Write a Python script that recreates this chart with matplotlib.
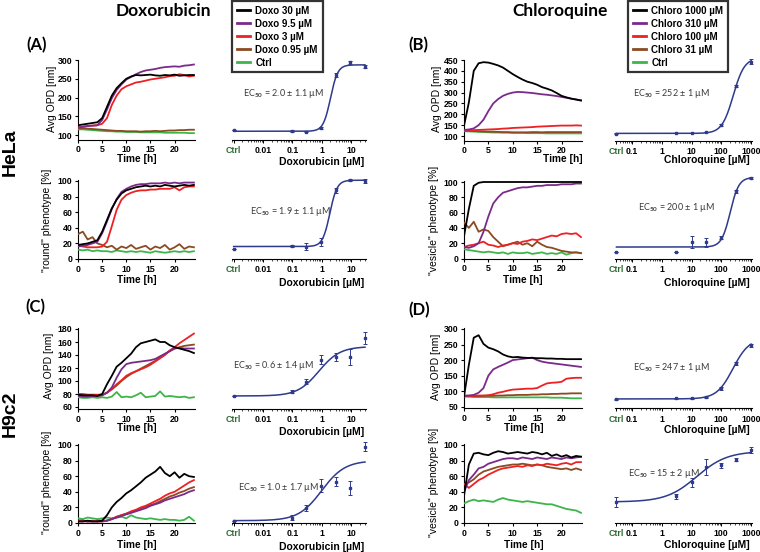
import numpy as np
import matplotlib
matplotlib.use("Agg")
import matplotlib.pyplot as plt
from matplotlib.ticker import LogLocator, NullFormatter

# ---------------- data ----------------
hours = list(range(25))

# HeLa, Doxorubicin, Avg OPD [nm]
A_opd_30 = [126, 128, 130, 132, 134, 145, 175, 205, 225, 238, 250, 256, 260, 259, 260, 261, 259, 258, 260, 259, 261, 258, 259, 260, 260]
A_opd_9 = [120, 122, 124, 125, 126, 140, 168, 198, 220, 235, 248, 255, 262, 268, 272, 274, 276, 279, 281, 282, 283, 282, 285, 286, 288]
A_opd_3 = [120, 122, 124, 125, 126, 130, 145, 180, 205, 222, 230, 235, 240, 242, 245, 248, 250, 252, 254, 257, 258, 262, 260, 256, 258]
A_opd_095 = [118, 118, 117, 116, 115, 114, 113, 112, 111, 111, 110, 110, 110, 109, 110, 110, 111, 110, 111, 112, 112, 113, 113, 114, 114]
A_opd_ctrl = [115, 115, 114, 113, 112, 111, 110, 110, 109, 109, 108, 108, 108, 107, 107, 107, 107, 107, 106, 106, 106, 106, 106, 105, 105]

# HeLa, Doxorubicin, "round" phenotype [%]
A_ph_30 = [18, 19, 20, 22, 24, 35, 50, 65, 76, 84, 88, 90, 92, 93, 94, 93, 94, 93, 95, 94, 93, 94, 95, 94, 95]
A_ph_9 = [16, 17, 18, 20, 22, 33, 48, 64, 77, 86, 90, 93, 95, 96, 96, 97, 97, 97, 98, 97, 98, 97, 98, 98, 98]
A_ph_3 = [17, 16, 15, 15, 15, 16, 22, 42, 63, 76, 82, 85, 87, 88, 88, 89, 89, 90, 90, 90, 92, 88, 92, 93, 93]
A_ph_095 = [32, 35, 25, 28, 20, 18, 15, 17, 12, 16, 14, 18, 13, 15, 17, 12, 16, 14, 18, 12, 15, 19, 13, 16, 15]
A_ph_ctrl = [12, 11, 12, 10, 11, 10, 10, 9, 11, 10, 9, 10, 9, 10, 9, 8, 10, 9, 8, 9, 10, 9, 10, 9, 10]

# HeLa, Chloroquine, Avg OPD [nm]
B_opd_1000 = [147, 255, 400, 435, 440, 438, 432, 425, 415, 400, 385, 372, 360, 350, 344, 336, 325, 318, 310, 298, 285, 278, 272, 268, 263]
B_opd_310 = [128, 130, 135, 150, 175, 215, 250, 270, 285, 294, 300, 303, 302, 300, 298, 295, 292, 290, 287, 284, 280, 276, 272, 268, 265]
B_opd_100 = [125, 126, 127, 128, 129, 130, 131, 132, 134, 135, 137, 138, 139, 140, 141, 143, 144, 145, 146, 147, 148, 148, 148, 149, 148]
B_opd_31 = [125, 124, 123, 122, 121, 120, 120, 119, 118, 118, 117, 117, 117, 117, 118, 118, 117, 118, 118, 118, 118, 118, 118, 118, 118]
B_opd_ctrl = [122, 121, 120, 119, 118, 117, 116, 116, 115, 115, 114, 114, 114, 113, 113, 113, 113, 112, 112, 112, 112, 112, 112, 112, 112]

# HeLa, Chloroquine, "vesicle" phenotype [%]
B_ph_1000 = [29, 65, 95, 99, 100, 100, 100, 100, 100, 100, 100, 100, 100, 100, 100, 100, 100, 100, 100, 100, 100, 100, 100, 100, 100]
B_ph_310 = [15, 14, 16, 20, 35, 55, 72, 80, 86, 88, 90, 92, 93, 93, 94, 95, 95, 96, 96, 96, 97, 97, 97, 98, 98]
B_ph_100 = [15, 17, 18, 20, 22, 18, 17, 15, 17, 18, 20, 19, 22, 23, 25, 24, 26, 28, 30, 29, 32, 33, 32, 33, 28]
B_ph_31 = [47, 40, 48, 35, 38, 36, 28, 22, 16, 18, 20, 22, 18, 20, 16, 22, 18, 15, 14, 12, 10, 9, 8, 8, 7]
B_ph_ctrl = [12, 11, 10, 9, 8, 9, 8, 7, 8, 6, 8, 7, 7, 8, 6, 7, 8, 6, 7, 6, 8, 5, 7, 8, 7]

# H9c2, Doxorubicin, Avg OPD [nm]
C_opd_30 = [79, 78, 78, 78, 77, 80, 95, 108, 122, 128, 135, 142, 152, 158, 160, 162, 164, 160, 160, 155, 152, 150, 148, 146, 143]
C_opd_9 = [77, 76, 76, 77, 77, 78, 82, 90, 105, 118, 126, 128, 129, 130, 131, 132, 134, 138, 142, 146, 150, 151, 150, 150, 150]
C_opd_3 = [80, 80, 79, 79, 79, 79, 82, 88, 95, 101, 108, 112, 115, 118, 121, 125, 130, 135, 140, 147, 152, 158, 163, 168, 173]
C_opd_095 = [78, 78, 77, 77, 77, 78, 82, 87, 93, 100, 106, 111, 115, 119, 123, 127, 131, 136, 141, 146, 150, 152, 154, 155, 156]
C_opd_ctrl = [75, 74, 74, 75, 74, 75, 74, 76, 83, 75, 76, 75, 78, 82, 75, 76, 77, 84, 76, 77, 76, 75, 76, 74, 75]

# H9c2, Doxorubicin, "round" phenotype [%]
C_ph_30 = [2, 2, 3, 2, 2, 3, 10, 20, 27, 32, 38, 42, 47, 52, 58, 62, 66, 72, 64, 60, 65, 58, 63, 60, 59]
C_ph_9 = [2, 2, 2, 2, 2, 2, 3, 5, 7, 9, 11, 13, 15, 17, 19, 22, 24, 26, 29, 31, 33, 35, 37, 40, 42]
C_ph_3 = [3, 3, 2, 3, 2, 2, 3, 5, 8, 10, 12, 15, 17, 20, 22, 25, 28, 31, 35, 38, 40, 44, 48, 52, 55]
C_ph_095 = [3, 3, 2, 2, 3, 3, 3, 5, 8, 10, 12, 14, 16, 19, 21, 23, 25, 28, 31, 34, 36, 39, 41, 44, 46]
C_ph_ctrl = [6, 5, 7, 6, 5, 6, 7, 6, 7, 8, 6, 10, 7, 6, 5, 6, 5, 4, 5, 4, 4, 3, 4, 8, 3]

# H9c2, Chloroquine, Avg OPD [nm]
D_opd_1000 = [82, 185, 272, 280, 252, 240, 235, 228, 218, 212, 209, 210, 208, 207, 207, 206, 206, 205, 205, 204, 204, 203, 203, 203, 203]
D_opd_310 = [85, 86, 88, 95, 110, 150, 170, 178, 185, 192, 200, 202, 204, 206, 208, 200, 195, 192, 190, 188, 186, 184, 182, 180, 178]
D_opd_100 = [85, 85, 85, 86, 86, 87, 90, 95, 98, 102, 105, 106, 107, 108, 108, 110, 118, 125, 127, 128, 130, 140, 142, 143, 143]
D_opd_31 = [85, 85, 84, 84, 85, 85, 85, 86, 86, 87, 87, 88, 88, 88, 89, 89, 90, 90, 91, 91, 92, 92, 93, 93, 93]
D_opd_ctrl = [82, 82, 81, 81, 81, 81, 80, 80, 80, 80, 80, 80, 80, 80, 80, 80, 80, 80, 79, 79, 79, 78, 77, 77, 77]

# H9c2, Chloroquine, "vesicle" phenotype [%]
D_ph_1000 = [35, 75, 89, 90, 88, 87, 90, 92, 91, 89, 90, 91, 90, 89, 91, 90, 88, 90, 86, 88, 85, 87, 84, 86, 85]
D_ph_310 = [40, 55, 62, 70, 72, 76, 78, 80, 82, 83, 83, 82, 84, 83, 82, 84, 83, 82, 84, 83, 82, 84, 83, 84, 85]
D_ph_100 = [50, 45, 50, 55, 58, 62, 65, 68, 70, 71, 72, 73, 72, 74, 73, 75, 74, 76, 75, 74, 76, 77, 75, 78, 78]
D_ph_31 = [50, 52, 56, 62, 66, 68, 70, 72, 73, 74, 75, 75, 76, 75, 74, 75, 74, 72, 71, 70, 69, 70, 68, 70, 68]
D_ph_ctrl = [25, 28, 30, 28, 29, 28, 27, 30, 32, 30, 29, 28, 27, 28, 27, 26, 25, 24, 24, 22, 20, 18, 17, 16, 13]

doxo_labels = ["Doxo 30 µM", "Doxo 9.5 µM", "Doxo 3 µM", "Doxo 0.95 µM", "Ctrl"]
chloro_labels = ["Chloro 1000 µM", "Chloro 310 µM", "Chloro 100 µM", "Chloro 31 µM", "Ctrl"]

# dose-response (Ctrl plotted at the left end of the log axis)
doxo_conc = [0.001, 0.1, 0.3, 0.95, 3, 9.5, 30]
chloro_conc = [0.03, 3, 10, 31, 100, 310, 1000]
A_dose_opd = [113, 110, 109, 119, 260, 294, 282]
A_dose_opd_err = [0, 3, 2, 2, 5, 4, 4]
A_dose_ph = [13, 17, 16, 22, 88, 101, 100]
A_dose_ph_err = [0, 1, 4, 5, 3, 1, 2]
B_dose_opd = [111, 114, 115, 119, 150, 329, 442]
B_dose_opd_err = [1, 1, 1, 1, 3, 5, 12]
B_dose_ph = [9, 9, 22, 21, 27, 88, 105]
B_dose_ph_err = [0, 0, 8, 6, 2, 2, 1]
C_dose_opd = [77, 83.5, 99, 133, 137, 137, 166]
C_dose_opd_err = [0, 2, 4, 7, 6, 12, 9]
C_dose_ph = [3, 7, 19, 48, 53, 44.5, 98]
C_dose_ph_err = [0, 3, 4, 8, 6, 9, 6]
D_dose_opd = [74, 77, 77, 80, 109, 189, 248]
D_dose_opd_err = [1, 1, 1, 1, 5, 5, 5]
D_dose_ph = [27, 34, 52, 72, 74, 81, 94]
D_dose_ph_err = [6, 3, 6, 10, 3, 2, 4]

# fitted Hill parameters (bottom, top, EC50, hill slope)
A_fit_opd = (110, 287, 2.0, 3.5)
A_fit_ph = (16, 101, 1.9, 3.5)
B_fit_opd = (112, 460, 252, 2.3)
B_fit_ph = (15, 106, 200, 3.0)
C_fit_opd = (77, 153, 0.8, 1.2)
C_fit_ph = (3, 80, 1.0, 1.1)
D_fit_opd = (75, 270, 247, 1.6)
D_fit_ph = (27, 92, 15, 0.85)

ec_texts = {
    "A1": "EC$_{50}$ = 2.0 ± 1.1 µM", "A2": "EC$_{50}$ = 1.9 ± 1.1 µM",
    "B1": "EC$_{50}$ = 252 ± 1 µM", "B2": "EC$_{50}$ = 200 ± 1 µM",
    "C1": "EC$_{50}$ = 0.6 ± 1.4 µM", "C2": "EC$_{50}$ = 1.0 ± 1.7 µM",
    "D1": "EC$_{50}$ = 247 ± 1 µM", "D2": "EC$_{50}$ = 15 ± 2 µM",
}

# ---------------- style ----------------
plt.rcParams["font.family"] = ["Liberation Sans", "DejaVu Sans"]
plt.rcParams["font.weight"] = "bold"
plt.rcParams["mathtext.fontset"] = "custom"
plt.rcParams["mathtext.rm"] = "Lato"
plt.rcParams["mathtext.it"] = "Lato"
plt.rcParams["axes.linewidth"] = 0.8

W, H = 760, 552
series_colors = ["#000000", "#7B2A8C", "#EE2024", "#8B4A22", "#3DB54A"]
fit_blue = "#2E3A8C"
ctrl_green = "#2F6B35"

fig = plt.figure(figsize=(W / 100, H / 100), dpi=100)


def place(xref, yref, xlim, ylim, xlog=False):
    (xv1, xp1), (xv2, xp2) = xref
    f = np.log10 if xlog else (lambda v: v)
    sx = (xp2 - xp1) / (f(xv2) - f(xv1))
    left = xp1 + (f(xlim[0]) - f(xv1)) * sx
    right = xp1 + (f(xlim[1]) - f(xv1)) * sx
    (yv1, yp1), (yv2, yp2) = yref
    sy = (yp2 - yp1) / (yv2 - yv1)
    bottom = yp1 + (ylim[0] - yv1) * sy
    top = yp1 + (ylim[1] - yv1) * sy
    ax = fig.add_axes([left / W, 1 - bottom / H, (right - left) / W, (bottom - top) / H])
    if xlog:
        ax.set_xscale("log")
    ax.set_xlim(*xlim)
    ax.set_ylim(*ylim)
    ax.set_facecolor("none")
    return ax


def fxy(x, y):
    return x / W, 1 - y / H


def time_panel(xref, yref, ylim, yticks, series, ylabel, ylab_px, xlab_px, labels=None):
    ax = place(xref, yref, (0, 24.3), ylim)
    lines = []
    for k in [4, 3, 2, 1, 0]:
        ln, = ax.plot(hours, series[k], color=series_colors[k], lw=1.3,
                      label=None if labels is None else labels[k], zorder=3 + (4 - k))
        lines.append(ln)
    for s in ["top", "right"]:
        ax.spines[s].set_visible(False)
    ax.set_xticks([0, 5, 10, 15, 20])
    ax.set_yticks(yticks)
    ax.tick_params(direction="out", length=2.5, width=0.8, labelsize=6.3, pad=1.5)
    ax.set_ylabel(ylabel, fontsize=7.5, fontweight="normal", va="center")
    ax.yaxis.set_label_coords(*fxy(*ylab_px), transform=fig.transFigure)
    ax.set_xlabel("Time [h]", fontsize=7.3, fontweight="bold", va="center")
    ax.xaxis.set_label_coords(*fxy(*xlab_px), transform=fig.transFigure)
    return ax, lines[::-1]


def dose_panel(xref, xlim, yref, ylim, conc, mean, err, fit, ticks, ticklabels,
               ec_text, ec_px, xlabel=None, xlab_px=None):
    ax = place(xref, yref, xlim, ylim, xlog=True)
    for s in ["left", "top", "right"]:
        ax.spines[s].set_visible(False)
    ax.set_yticks([])
    ax.set_xticks(ticks, ticklabels)
    ax.xaxis.set_minor_locator(LogLocator(base=10, subs=np.arange(2, 10), numticks=30))
    ax.xaxis.set_minor_formatter(NullFormatter())
    ax.tick_params(which="major", direction="out", length=2.5, width=0.7, labelsize=6.3, pad=2)
    ax.tick_params(which="minor", direction="out", length=1.5, width=0.5)
    ax.get_xticklabels()[0].set_color(ctrl_green)
    b, t, ec, h = fit
    xs = np.logspace(np.log10(conc[0]), np.log10(conc[-1]), 300)
    ax.plot(xs, b + (t - b) / (1 + (ec / xs) ** h), color=fit_blue, lw=1.1, clip_on=False)
    cont = ax.errorbar(conc, mean, yerr=err, fmt="s", ms=1.8, color=fit_blue,
                       ecolor=fit_blue, elinewidth=0.7, capsize=1.3, capthick=0.7)
    cont.lines[0].set_clip_on(False)
    for a in cont.lines[1]:
        a.set_clip_on(False)
    for a in cont.lines[2]:
        a.set_clip_on(False)
    fig.text(*fxy(*ec_px), ec_text, fontsize=6.5, fontweight="normal", family="Lato",
             color="#3a3a3a", ha="left", va="center")
    if xlabel:
        ax.set_xlabel(xlabel, fontsize=7.5, fontweight="bold", ha="right", va="center")
        ax.xaxis.set_label_coords(*fxy(*xlab_px), transform=fig.transFigure)
    return ax


doxo_x = ((0, 78), (20, 174.6))
chloro_x = ((0, 464), (20, 561.5))
doxo_dose_x = ((0.01, 263), (10, 351))
chloro_dose_x = ((0.1, 632), (1000, 751))
doxo_dose_lim = (10 ** -3.07, 10 ** 1.5)
chloro_dose_lim = (10 ** -1.58, 10 ** 3.05)
doxo_ticks = [0.001, 0.01, 0.1, 1, 10]
doxo_tlabels = ["Ctrl", "0.01", "0.1", "1", "10"]
chloro_ticks = [0.03, 0.1, 1, 10, 100, 1000]
chloro_tlabels = ["Ctrl", "0.1", "1", "10", "100", "1000"]

# ---- Row 1: HeLa OPD ----
r1d_y = ((100, 135), (300, 60))
r1c_y = ((100, 136), (450, 60))
axA1, hA = time_panel(doxo_x, r1d_y, (88, 301), [100, 150, 200, 250, 300],
                      [A_opd_30, A_opd_9, A_opd_3, A_opd_095, A_opd_ctrl],
                      "Avg OPD [nm]", (52, 99), (137, 159), doxo_labels)
dose_panel(doxo_dose_x, doxo_dose_lim, r1d_y, (88, 301), doxo_conc, A_dose_opd, A_dose_opd_err,
           A_fit_opd, doxo_ticks, doxo_tlabels, ec_texts["A1"], (243, 93),
           "Doxorubicin [µM]", (364, 162))
axB1, hB = time_panel(chloro_x, r1c_y, (79, 452), list(range(100, 451, 50)),
                      [B_opd_1000, B_opd_310, B_opd_100, B_opd_31, B_opd_ctrl],
                      "Avg OPD [nm]", (437, 99), (563, 159), chloro_labels)
dose_panel(chloro_dose_x, chloro_dose_lim, r1c_y, (79, 452), chloro_conc, B_dose_opd, B_dose_opd_err,
           B_fit_opd, chloro_ticks, chloro_tlabels, ec_texts["B1"], (633, 93),
           "Chloroquine [µM]", (750, 160))

# ---- Row 2: HeLa phenotype ----
r2d_y = ((0, 259), (100, 181))
r2c_y = ((0, 258.5), (100, 182))
time_panel(doxo_x, r2d_y, (0, 101), [0, 20, 40, 60, 80, 100],
           [A_ph_30, A_ph_9, A_ph_3, A_ph_095, A_ph_ctrl],
           '"round" phenotype [%]', (47, 220), (137, 280))
dose_panel(doxo_dose_x, doxo_dose_lim, r2d_y, (0, 101), doxo_conc, A_dose_ph, A_dose_ph_err,
           A_fit_ph, doxo_ticks, doxo_tlabels, ec_texts["A2"], (250, 211),
           "Doxorubicin [µM]", (364, 283))
time_panel(chloro_x, r2c_y, (0, 101), [0, 20, 40, 60, 80, 100],
           [B_ph_1000, B_ph_310, B_ph_100, B_ph_31, B_ph_ctrl],
           '"vesicle" phenotype [%]', (434, 220), (523, 280))
dose_panel(chloro_dose_x, chloro_dose_lim, r2c_y, (0, 101), chloro_conc, B_dose_ph, B_dose_ph_err,
           B_fit_ph, chloro_ticks, chloro_tlabels, ec_texts["B2"], (638, 208),
           "Chloroquine [µM]", (750, 283))

# ---- Row 3: H9c2 OPD ----
r3d_y = ((60, 407), (180, 329))
r3c_y = ((50, 406.7), (300, 329))
time_panel(doxo_x, r3d_y, (57, 181), [60, 80, 100, 120, 140, 160, 180],
           [C_opd_30, C_opd_9, C_opd_3, C_opd_095, C_opd_ctrl],
           "Avg OPD [nm]", (49, 366), (137, 428))
dose_panel(doxo_dose_x, doxo_dose_lim, r3d_y, (57, 181), doxo_conc, C_dose_opd, C_dose_opd_err,
           C_fit_opd, doxo_ticks, doxo_tlabels, ec_texts["C1"], (233, 365),
           "Doxorubicin [µM]", (364, 432))
time_panel(chloro_x, r3c_y, (45, 302), [50, 100, 150, 200, 250, 300],
           [D_opd_1000, D_opd_310, D_opd_100, D_opd_31, D_opd_ctrl],
           "Avg OPD [nm]", (436, 367), (524, 428))
dose_panel(chloro_dose_x, chloro_dose_lim, r3c_y, (45, 302), chloro_conc, D_dose_opd, D_dose_opd_err,
           D_fit_opd, chloro_ticks, chloro_tlabels, ec_texts["D1"], (633, 368),
           "Chloroquine [µM]", (750, 430))

# ---- Row 4: H9c2 phenotype ----
r4_y = ((0, 523), (100, 445))
time_panel(doxo_x, r4_y, (0, 101), [0, 20, 40, 60, 80, 100],
           [C_ph_30, C_ph_9, C_ph_3, C_ph_095, C_ph_ctrl],
           '"round" phenotype [%]', (47, 482), (137, 545))
dose_panel(doxo_dose_x, doxo_dose_lim, r4_y, (0, 101), doxo_conc, C_dose_ph, C_dose_ph_err,
           C_fit_ph, doxo_ticks, doxo_tlabels, ec_texts["C2"], (238, 488),
           "Doxorubicin [µM]", (364, 547))
time_panel(chloro_x, r4_y, (0, 101), [0, 20, 40, 60, 80, 100],
           [D_ph_1000, D_ph_310, D_ph_100, D_ph_31, D_ph_ctrl],
           '"vesicle" phenotype [%]', (434, 482), (524, 545))
dose_panel(chloro_dose_x, chloro_dose_lim, r4_y, (0, 101), chloro_conc, D_dose_ph, D_dose_ph_err,
           D_fit_ph, chloro_ticks, chloro_tlabels, ec_texts["D2"], (628, 473),
           "Chloroquine [µM]", (750, 545))

# ---- legends ----
for handles, labels, (lx, ly) in [(hA, doxo_labels, (232, 1)), (hB, chloro_labels, (628, 1))]:
    leg = fig.legend(handles, labels, loc="upper left", bbox_to_anchor=fxy(lx, ly),
                     bbox_transform=fig.transFigure, frameon=True, fancybox=False,
                     edgecolor="black", handlelength=1.4, handletextpad=0.5,
                     labelspacing=0.3, borderpad=0.5, borderaxespad=0,
                     prop={"weight": "bold", "size": 7})
    leg.get_frame().set_linewidth(1.6)
    for ln in leg.get_lines():
        ln.set_linewidth(2.0)

# ---- titles / panel letters ----
fig.text(*fxy(163, 16), "Doxorubicin", family="Lato", fontweight="bold", fontsize=12.5,
         ha="center", va="baseline")
fig.text(*fxy(560, 16), "Chloroquine", family="Lato", fontweight="bold", fontsize=12.5,
         ha="center", va="baseline")
for letter, (x, y) in {"(A)": (26, 50), "(B)": (408, 50), "(C)": (25, 312), "(D)": (408, 315)}.items():
    fig.text(*fxy(x, y), letter, family="Lato", fontweight="bold", fontsize=12,
             ha="left", va="baseline")
fig.text(*fxy(10, 152), "HeLa", fontsize=14, fontweight="bold", rotation=90,
         ha="center", va="center")
fig.text(*fxy(10, 414), "H9c2", fontsize=14, fontweight="bold", rotation=90,
         ha="center", va="center")

fig.savefig("out.png", dpi=100, facecolor="white")
